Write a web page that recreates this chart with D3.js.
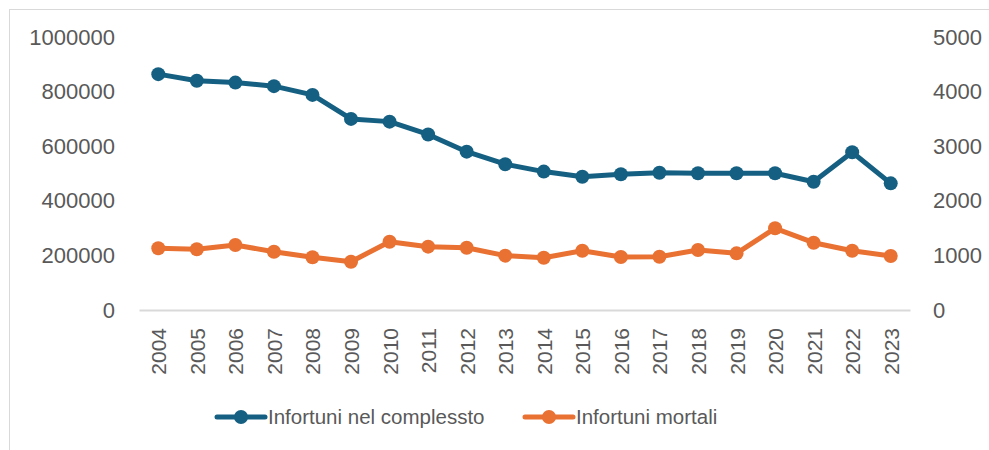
<!DOCTYPE html>
<html>
<head>
<meta charset="utf-8">
<script src="https://cdn.jsdelivr.net/npm/d3@7"></script>
<style>
  body { margin: 0; background: #fff; }
  text { font-family: "Liberation Sans", Arial, sans-serif; fill: #595959; }
</style>
</head>
<body>
<div id="chart"></div>
<script>
// Data
const years = ["2004", "2005", "2006", "2007", "2008", "2009", "2010", "2011", "2012", "2013",
               "2014", "2015", "2016", "2017", "2018", "2019", "2020", "2021", "2022", "2023"];
const totali = [864000, 840000, 833000, 820000, 788000, 700000, 690000, 643000, 580000, 534000,
                507000, 488000, 497000, 503000, 501000, 501000, 501000, 470000, 578000, 464000];
const mortali = [1130, 1112, 1190, 1068, 965, 885, 1251, 1160, 1141, 995,
                 958, 1086, 971, 976, 1099, 1038, 1496, 1233, 1086, 989];
const leftTicks = [0, 200000, 400000, 600000, 800000, 1000000];
const rightTicks = [0, 1000, 2000, 3000, 4000, 5000];
const seriesNames = ["Infortuni nel complessto", "Infortuni mortali"];
const colors = ["#156082", "#e97132"];

const width = 989;
const height = 450;
const margin = { top: 37, right: 79, bottom: 140, left: 139 };

const svg = d3.select("#chart")
    .append("svg")
    .attr("width", width)
    .attr("height", height);

// Frame
svg.append("rect")
    .attr("x", 9.5).attr("y", 9.5)
    .attr("width", 1000).attr("height", 500)
    .attr("fill", "none")
    .attr("stroke", "#d9d9d9");

// Scales
const x = d3.scaleBand()
    .domain(years)
    .range([margin.left, width - margin.right]);

const yLeft = d3.scaleLinear()
    .domain([0, 1000000])
    .range([height - margin.bottom, margin.top]);

const yRight = d3.scaleLinear()
    .domain([0, 5000])
    .range([height - margin.bottom, margin.top]);

// Axes
const xAxis = svg.append("g")
    .attr("transform", `translate(0,${height - margin.bottom})`)
    .call(d3.axisBottom(x).tickSize(0).tickPadding(0));
xAxis.select(".domain").attr("stroke", "#d9d9d9").attr("stroke-width", 2);
xAxis.selectAll("text")
    .attr("font-size", 21)
    .attr("text-anchor", "end")
    .attr("dy", null)
    .attr("y", 0)
    .attr("transform", "translate(8,18) rotate(-90)");

const leftAxis = svg.append("g")
    .attr("transform", `translate(${margin.left},0)`)
    .call(d3.axisLeft(yLeft).tickValues(leftTicks).tickFormat(d3.format("d")).tickSize(0).tickPadding(24));
leftAxis.select(".domain").remove();
leftAxis.selectAll("text").attr("font-size", 22);

const rightAxis = svg.append("g")
    .attr("transform", `translate(${width - margin.right},0)`)
    .call(d3.axisRight(yRight).tickValues(rightTicks).tickFormat(d3.format("d")).tickSize(0).tickPadding(23));
rightAxis.select(".domain").remove();
rightAxis.selectAll("text").attr("font-size", 22);

// Series
const series = [
    { name: seriesNames[0], values: totali, scale: yLeft, color: colors[0] },
    { name: seriesNames[1], values: mortali, scale: yRight, color: colors[1] }
];

series.forEach(s => {
    const line = d3.line()
        .x((d, i) => x(years[i]) + x.bandwidth() / 2)
        .y(d => s.scale(d));

    svg.append("path")
        .datum(s.values)
        .attr("fill", "none")
        .attr("stroke", s.color)
        .attr("stroke-width", 5)
        .attr("stroke-linejoin", "round")
        .attr("d", line);

    svg.append("g")
        .selectAll("circle")
        .data(s.values)
        .join("circle")
        .attr("cx", (d, i) => x(years[i]) + x.bandwidth() / 2)
        .attr("cy", d => s.scale(d))
        .attr("r", 7)
        .attr("fill", s.color);
});

// Legend
const legendX = [217, 525];
const legend = svg.append("g")
    .selectAll("g")
    .data(series)
    .join("g")
    .attr("transform", (d, i) => `translate(${legendX[i]},417)`);

legend.append("line")
    .attr("x1", 0).attr("x2", 48)
    .attr("stroke", d => d.color)
    .attr("stroke-width", 5)
    .attr("stroke-linecap", "round");

legend.append("circle")
    .attr("cx", 24)
    .attr("r", 7)
    .attr("fill", d => d.color);

legend.append("text")
    .attr("x", 51)
    .attr("dy", "0.35em")
    .attr("font-size", 20.5)
    .text(d => d.name);
</script>
</body>
</html>
